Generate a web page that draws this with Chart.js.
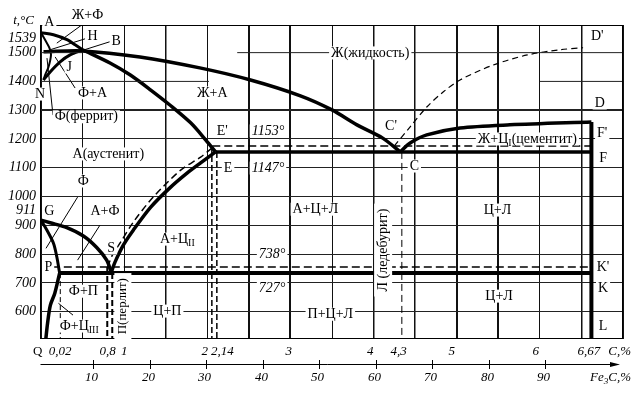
<!DOCTYPE html>
<html>
<head>
<meta charset="utf-8">
<title>Fe–Fe3C</title>
<script src="https://cdn.jsdelivr.net/npm/chart.js@4.4.1/dist/chart.umd.min.js"></script>
<style>
  html, body { margin: 0; padding: 0; background: #fff; }
</style>
</head>
<body>
<canvas id="diagram" width="641" height="393"></canvas>
<script>
// phase boundaries as [C %, t °C] (it is not to scale near the origin)
const liquidusAB = [[0, 1569], [0.15, 1562], [0.32, 1544], [0.41, 1527], [0.50, 1510]];
const ferriteAHN = [[0, 1569], [0.05, 1544], [0.10, 1517], [0.12, 1492], [0.09, 1450], [0.05, 1423], [0.03, 1405]];
const austeniteNJ = [[0.03, 1405], [0.11, 1433], [0.23, 1468], [0.35, 1492], [0.50, 1510]];
const liquidusBC = [[0.03, 1503], [0.50, 1506], [1.19, 1485], [1.91, 1447], [2.52, 1405], [3.12, 1350], [3.50, 1301], [3.80, 1249], [4.11, 1203], [4.32, 1155]];
const solidusJE = [[0.50, 1510], [0.83, 1464], [1.07, 1423], [1.32, 1370], [1.55, 1318], [1.80, 1256], [1.98, 1197], [2.10, 1155]];
const liquidusCD = [[4.32, 1155], [4.44, 1186], [4.64, 1214], [5.04, 1238], [5.64, 1249], [6.62, 1259]];
const cementiteFL = [[6.62, 1259], [6.62, 505]];
const eutecticECF = [[2.10, 1155], [6.62, 1155]];
const acmES = [[0.845, 737], [0.89, 772], [0.99, 831], [1.11, 883], [1.32, 963], [1.55, 1030], [1.76, 1082], [1.92, 1117], [2.10, 1155]];
const a3GS = [[0, 918], [0.11, 909], [0.31, 892], [0.51, 863], [0.67, 823], [0.79, 779], [0.845, 737]];
const ferriteGP = [[0, 918], [0.07, 884], [0.15, 838], [0.19, 791], [0.224, 734]];
const ferritePQ = [[0.224, 734], [0.166, 664], [0.112, 622], [0.079, 560], [0.058, 505]];
const eutectoidPSK = [[0.224, 734], [6.62, 734]];

// stable (graphite) system, dashed
const graphiteECF = [[2.06, 1176], [6.62, 1176]];
const graphiteCD = [[4.25, 1176], [4.44, 1242], [4.64, 1311], [4.84, 1364], [5.04, 1405], [5.44, 1457], [5.85, 1492], [6.24, 1510], [6.52, 1517]];
const graphiteES = [[0.80, 755], [0.86, 797], [0.95, 838], [1.11, 911], [1.35, 998], [1.68, 1092], [1.92, 1137], [2.07, 1172]];
const graphitePSK = [[0.13, 755], [6.62, 755]];

// dashed composition lines
const lineP = [[0.232, 734], [0.232, 505]];
const lineS1 = [[0.797, 755], [0.797, 505]];
const lineS2 = [[0.857, 734], [0.857, 505]];
const lineE1 = [[2.055, 1172], [2.055, 505]];
const lineE2 = [[2.115, 1155], [2.115, 505]];
const lineC = [[4.34, 1155], [4.34, 505]];

// leader lines from labels into small fields
const leaders = [
  [[0.49, 1596], [0.19, 1533]],
  [[0.53, 1548], [0.11, 1510]],
  [[0.83, 1538], [0.49, 1507]],
  [[0.41, 1377], [0.17, 1485]],
  [[0.144, 1283], [0.072, 1481]],
  [[0.44, 998], [0.06, 820]],
  [[0.71, 901], [0.44, 779]],
  [[0.21, 629], [0.385, 588]]
];

// axes
const cGrid = [0, 0.5, 1, 1.5, 2, 2.5, 3, 3.5, 4, 4.5, 5, 5.5, 6, 6.5, 7];
const cGridBold = [2.5, 3, 5, 5.5];
const cGridMid = [1.5, 4, 4.5, 6.5];
const tGrid = [600, 700, 800, 900, 1000, 1100, 1200, 1300, 1400, 1500];
const tGridBold = [1300];
// the 1400 and 1500 rules are only drawn in part: [t, from C, to C]
const tGridPartial = [[1500, 0, 0.5], [1500, 2.36, 7], [1400, 0, 2.02], [1400, 6.0, 7]];
const tExtraText = ['1539', '911'];
const tExtraAt = [1551, 953];
const cTickText = ['Q', '0,02', '0,8', '1', '2', '2,14', '3', '4', '4,3', '5', '6', '6,67', 'C,%'];
const cTickAt = [-0.04, 0.23, 0.8, 1, 1.97, 2.18, 2.98, 3.96, 4.3, 4.94, 5.95, 6.59, 6.96];
const feTicks = [10, 20, 30, 40, 50, 60, 70, 80, 90];
const feAxisMin = 0.74, feAxisMax = 103.75;

// field and point labels: text, C %, t °C
const notes = [
  { text: 't,°C', c: -0.21, t: 1610, italic: true, size: 13 },
  { text: 'Ж+Ф', c: 0.56, t: 1631 },
  { text: 'A', c: 0.10, t: 1607 },
  { text: 'H', c: 0.62, t: 1555 },
  { text: 'B', c: 0.905, t: 1541 },
  { text: 'J', c: 0.34, t: 1450 },
  { text: 'N', c: -0.01, t: 1356 },
  { text: 'Ф+А', c: 0.62, t: 1360 },
  { text: 'Ф(феррит)', c: 0.545, t: 1277 },
  { text: 'Ж+А', c: 2.06, t: 1360 },
  { text: 'Ж(жидкость)', c: 3.96, t: 1499 },
  { text: 'А(аустенит)', c: 0.81, t: 1148 },
  { text: "E'", c: 2.18, t: 1228 },
  { text: '1153°', c: 2.73, t: 1228, italic: true },
  { text: 'E', c: 2.25, t: 1099 },
  { text: '1147°', c: 2.73, t: 1099, italic: true },
  { text: "C'", c: 4.21, t: 1245 },
  { text: 'C', c: 4.49, t: 1106 },
  { text: "D'", c: 6.69, t: 1558 },
  { text: 'D', c: 6.72, t: 1325 },
  { text: "F'", c: 6.75, t: 1221 },
  { text: 'F', c: 6.76, t: 1134 },
  { text: 'Ж+Ц{I}(цементит)', c: 5.85, t: 1200 },
  { text: 'Ф', c: 0.51, t: 1054 },
  { text: 'G', c: 0.10, t: 950 },
  { text: 'А+Ф', c: 0.77, t: 950 },
  { text: 'S', c: 0.845, t: 821 },
  { text: 'P', c: 0.088, t: 755 },
  { text: 'А+Ц{II}', c: 1.64, t: 852 },
  { text: 'А+Ц+Л', c: 3.30, t: 956 },
  { text: '738°', c: 2.78, t: 800, italic: true },
  { text: '727°', c: 2.78, t: 682, italic: true },
  { text: 'Л (ледебурит)', c: 4.115, t: 814, rot: true },
  { text: 'Ц+Л', c: 5.49, t: 953 },
  { text: 'Ц+Л', c: 5.51, t: 654 },
  { text: "K'", c: 6.76, t: 755 },
  { text: 'K', c: 6.76, t: 682 },
  { text: 'L', c: 6.76, t: 550 },
  { text: 'Ф+П', c: 0.51, t: 671 },
  { text: 'Ф+Ц{III}', c: 0.46, t: 550 },
  { text: 'П(перлит)', c: 0.985, t: 619, rot: true, size: 13 },
  { text: 'Ц+П', c: 1.52, t: 602 },
  { text: 'П+Ц+Л', c: 3.48, t: 591 }
];

const FONT = '"Liberation Serif", "Times New Roman", serif';

function line(points, width, dash, tension, color) {
  return {
    data: points.map(p => ({ x: p[0], y: p[1] })),
    showLine: true,
    borderColor: color || '#000',
    borderWidth: width,
    borderDash: dash || [],
    tension: tension || 0,
    pointRadius: 0,
    fill: false
  };
}

const datasets = tGridPartial.map(g => line([[g[1], g[0]], [g[2], g[0]]], 1, null, 0, '#222')).concat([
  line(liquidusAB, 3, null, 0.3),
  line(ferriteAHN, 2, null, 0.3),
  line(austeniteNJ, 3, null, 0.3),
  line(liquidusBC, 3.5, null, 0.3),
  line(solidusJE, 3.5, null, 0.3),
  line(liquidusCD, 3.5, null, 0.3),
  line(cementiteFL, 4),
  line(eutecticECF, 3.5),
  line(acmES, 3.5, null, 0.3),
  line(a3GS, 3.5, null, 0.3),
  line(ferriteGP, 3, null, 0.3),
  line(ferritePQ, 3.5, null, 0.3),
  line(eutectoidPSK, 4),
  line(graphiteECF, 1.5, [8, 4]),
  line(graphiteCD, 1.2, [6, 4], 0.3),
  line(graphiteES, 1.5, [7, 4], 0.3),
  line(graphitePSK, 1.5, [8, 4]),
  line(lineP, 1, [5, 3]),
  line(lineS1, 2, [6, 3]),
  line(lineS2, 2, [6, 3]),
  line(lineE1, 1.5, [6, 3]),
  line(lineE2, 1.5, [6, 3]),
  line(lineC, 1, [7, 4])
]).concat(leaders.map(l => line(l, 1)));

function drawRich(ctx, text, px, py, o) {
  o = o || {};
  const size = o.size || 14;
  const main = (o.italic ? 'italic ' : '') + size + 'px ' + FONT;
  const sub = (o.italic ? 'italic ' : '') + Math.round(size * 0.72) + 'px ' + FONT;
  const parts = text.split(/[{}]/);
  let w = 0;
  parts.forEach((p, i) => { ctx.font = i % 2 ? sub : main; w += ctx.measureText(p).width; });
  ctx.save();
  ctx.translate(px, py);
  if (o.rot) ctx.rotate(-Math.PI / 2);
  if (o.box !== false) {
    const padX = o.rot ? 5 : 2, h = o.rot ? size + 4 : size - 1;
    ctx.fillStyle = '#fff';
    ctx.fillRect(-w / 2 - padX, -h / 2, w + 2 * padX, h);
  }
  ctx.fillStyle = '#000';
  ctx.textBaseline = 'middle';
  ctx.textAlign = 'left';
  let x = o.align === 'right' ? -w : -w / 2;
  parts.forEach((p, i) => {
    ctx.font = i % 2 ? sub : main;
    ctx.fillText(p, x, i % 2 ? size * 0.28 : 0);
    x += ctx.measureText(p).width;
  });
  ctx.restore();
}

const decor = {
  id: 'decor',
  afterDraw(chart) {
    const { ctx, chartArea: a } = chart;
    const x = chart.scales.x, y = chart.scales.y, fe = chart.scales.fe;
    ctx.save();
    ctx.strokeStyle = '#000';
    ctx.fillStyle = '#000';
    ctx.lineWidth = 1;
    ctx.strokeRect(a.left - 0.5, a.top + 0.5, a.right - a.left, a.bottom - a.top - 1);

    notes.forEach(n => drawRich(ctx, n.text, x.getPixelForValue(n.c), y.getPixelForValue(n.t), n));

    // carbon axis labels
    const row1 = a.bottom + 13, axisY = a.bottom + 25.5, row2 = a.bottom + 39;
    cTickText.forEach((s, i) => {
      drawRich(ctx, s, x.getPixelForValue(cTickAt[i]), row1, { italic: s !== 'Q', size: 13, box: false });
    });

    // Fe3C axis with arrow
    const tip = a.right - 3;
    ctx.beginPath();
    ctx.moveTo(a.left - 0.5, axisY);
    ctx.lineTo(tip - 6, axisY);
    ctx.stroke();
    ctx.beginPath();
    ctx.moveTo(tip, axisY);
    ctx.lineTo(tip - 10, axisY - 2.5);
    ctx.lineTo(tip - 10, axisY + 2.5);
    ctx.closePath();
    ctx.fill();
    feTicks.forEach(v => {
      const px = Math.round(fe.getPixelForValue(v)) + 0.5;
      ctx.beginPath();
      ctx.moveTo(px, axisY - 4.5);
      ctx.lineTo(px, axisY + 4.5);
      ctx.stroke();
      drawRich(ctx, String(v), px - 2, row2, { italic: true, size: 13, box: false });
    });
    drawRich(ctx, 'Fe{3}C,%', a.right + 8, row2, { italic: true, size: 13, box: false, align: 'right' });
    ctx.restore();
  }
};

new Chart(document.getElementById('diagram'), {
  type: 'scatter',
  data: { datasets },
  options: {
    responsive: false,
    animation: false,
    devicePixelRatio: 1,
    layout: { padding: { left: 0, right: 18, top: 25, bottom: 54 } },
    plugins: { legend: { display: false }, tooltip: { enabled: false } },
    elements: { point: { radius: 0 } },
    scales: {
      x: {
        type: 'linear', min: 0, max: 7,
        afterBuildTicks: s => { s.ticks = cGrid.map(v => ({ value: v })); },
        afterFit: s => { s.height = 0; },
        ticks: { display: false },
        border: { display: false },
        grid: {
          drawTicks: false,
          color: '#111',
          lineWidth: c => {
            const v = c.tick ? c.tick.value : null;
            return cGridBold.includes(v) ? 2 : cGridMid.includes(v) ? 1.5 : 1;
          }
        }
      },
      y: {
        type: 'linear', min: 505, max: 1596,
        afterBuildTicks: s => {
          s.ticks = tGrid.concat(tExtraAt).sort((p, q) => p - q).map(v => ({ value: v }));
        },
        afterFit: s => { s.width = 41; },
        border: { display: false },
        ticks: {
          autoSkip: false,
          padding: 5,
          color: '#000',
          font: { family: FONT, size: 14, style: 'italic' },
          callback: v => {
            const i = tExtraAt.indexOf(v);
            return i >= 0 ? tExtraText[i] : String(v);
          }
        },
        grid: {
          drawTicks: false,
          color: c => {
            const v = c.tick ? c.tick.value : null;
            const hidden = tExtraAt.includes(v) || tGridPartial.some(g => g[0] === v);
            return hidden ? 'rgba(0,0,0,0)' : '#222';
          },
          lineWidth: c => (c.tick && tGridBold.includes(c.tick.value)) ? 2 : 1
        }
      },
      fe: { type: 'linear', axis: 'x', position: 'bottom', display: false, min: feAxisMin, max: feAxisMax }
    }
  },
  plugins: [decor]
});
</script>
</body>
</html>
